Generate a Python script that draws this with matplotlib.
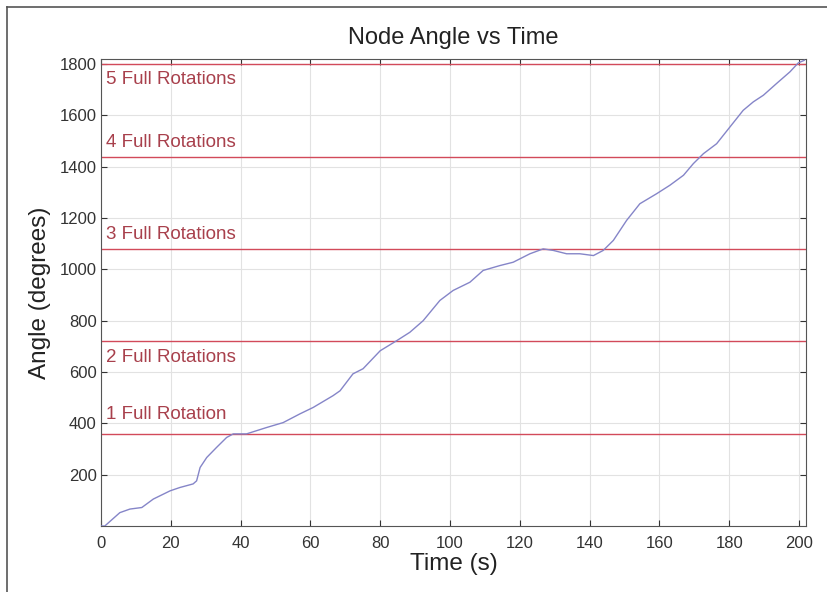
import matplotlib
matplotlib.use("Agg")
import matplotlib.pyplot as plt
from matplotlib.lines import Line2D

# Node angle samples
time_s = [0, 1.1, 5.4, 8.3, 11.7, 15, 19.8, 22.6, 26.4, 27.4, 28.4, 30.3, 33.1, 36,
          37.9, 41.7, 47.5, 52.2, 57, 60.8, 66.5, 68.5, 72.2, 75.1, 80, 84.7, 88.5,
          92.3, 97.1, 100.9, 105.7, 109.5, 114.3, 118.1, 122.9, 126.7, 129.6, 133.4,
          137.2, 141.1, 143.9, 146.8, 150.6, 154.4, 159.2, 163, 166.9, 169.7, 172.6,
          176.4, 180.2, 184, 186.9, 189.8, 193.6, 197.4, 199.8, 201.5]
angle_deg = [0, 0, 52, 66, 72, 105, 137, 150, 164, 176, 228, 267, 306, 345,
             359, 359, 384, 403, 437, 462, 508, 527, 593, 613, 683, 722, 755,
             800, 879, 918, 950, 996, 1015, 1028, 1061, 1080, 1074, 1061,
             1061, 1054, 1074, 1113, 1191, 1256, 1295, 1328, 1367, 1412, 1451,
             1490, 1555, 1620, 1653, 1679, 1725, 1770, 1805, 1815]

rotation_levels = [360, 720, 1080, 1440, 1800]
rotation_labels = ["1 Full Rotation", "2 Full Rotations", "3 Full Rotations",
                   "4 Full Rotations", "5 Full Rotations"]
label_y = [434, 658, 1135, 1495, 1742]

plt.rcParams['font.family'] = ['Liberation Sans', 'DejaVu Sans']

fig = plt.figure(figsize=(8.27, 5.92), dpi=100)
ax = fig.add_axes([0.1221, 0.1115, 0.8525, 0.7888])

ax.plot(time_s, angle_deg, color='#8585c8', linewidth=1.0, zorder=3)

for lvl, lab, ly in zip(rotation_levels, rotation_labels, label_y):
    ax.axhline(lvl, color='#d24a5a', linewidth=1.0, zorder=2)
    ax.text(1.3, ly, lab, color='#a8404c', fontsize=13.5, va='center', ha='left')

ax.set_xlim(0, 202)
ax.set_ylim(0, 1820)
ax.set_xticks(range(0, 201, 20))
ax.set_yticks(range(200, 1801, 200))
ax.grid(True, color='#e2e2e2', linewidth=0.8)
ax.set_axisbelow(True)
ax.tick_params(direction='in', top=True, right=True, labelsize=12,
               colors='#333333', length=4, pad=3)
ax.tick_params(axis='x', pad=7)
for sp in ax.spines.values():
    sp.set_color('#555555')

ax.set_title("Node Angle vs Time", fontsize=17, color='#222222', pad=11)
ax.set_xlabel("Time (s)", fontsize=17.5, color='#222222', labelpad=2)
ax.set_ylabel("Angle (degrees)", fontsize=17.5, color='#222222', labelpad=6)

# figure border (left and top edges)
fig.add_artist(Line2D([7/827, 7/827], [0, 1 - 7/592], transform=fig.transFigure,
                      color='#555555', linewidth=1.2))
fig.add_artist(Line2D([7/827, 1], [1 - 7/592, 1 - 7/592], transform=fig.transFigure,
                      color='#555555', linewidth=1.2))

fig.savefig("out.png", dpi=100)
